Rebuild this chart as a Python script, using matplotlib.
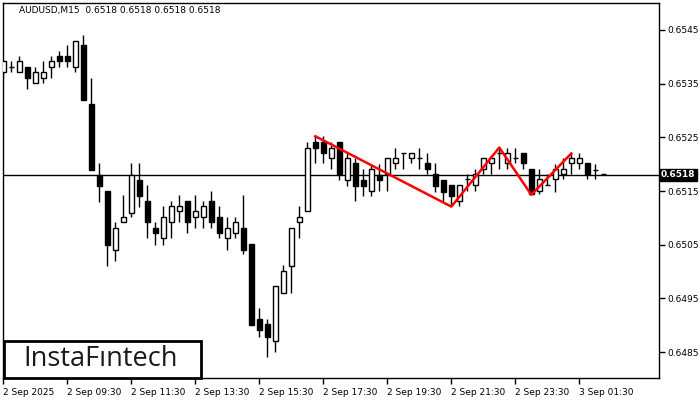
import numpy as np
import matplotlib
matplotlib.use("Agg")
import matplotlib.pyplot as plt
from matplotlib.patches import Rectangle

# AUDUSD M15 candles (open, high, low, close)
opens = [0.65371, 0.65381, 0.65371, 0.65381, 0.65351, 0.65360, 0.65381, 0.65401, 0.65401, 0.65381,
         0.65421, 0.65312, 0.65179, 0.65151, 0.65040, 0.65092, 0.65110, 0.65170, 0.65131, 0.65082,
         0.65062, 0.65092, 0.65112, 0.65131, 0.65101, 0.65101, 0.65131, 0.65101, 0.65062, 0.65071,
         0.65082, 0.65051, 0.64911, 0.64902, 0.64870, 0.64961, 0.65010, 0.65092, 0.65112, 0.65241,
         0.65241, 0.65211, 0.65241, 0.65170, 0.65202, 0.65170, 0.65151, 0.65179, 0.65181, 0.65202,
         0.65220, 0.65211, 0.65211, 0.65202, 0.65181, 0.65170, 0.65161, 0.65131, 0.65172, 0.65161,
         0.65191, 0.65202, 0.65220, 0.65202, 0.65211, 0.65220, 0.65191, 0.65151, 0.65161, 0.65172,
         0.65181, 0.65202, 0.65202, 0.65202, 0.65190, 0.65181]
highs = [0.65392, 0.65392, 0.65401, 0.65381, 0.65381, 0.65392, 0.65401, 0.65410, 0.65421, 0.65429,
         0.65440, 0.65360, 0.65202, 0.65151, 0.65092, 0.65142, 0.65202, 0.65202, 0.65161, 0.65092,
         0.65122, 0.65131, 0.65142, 0.65131, 0.65142, 0.65131, 0.65151, 0.65122, 0.65101, 0.65101,
         0.65142, 0.65051, 0.64932, 0.64911, 0.64973, 0.65012, 0.65082, 0.65122, 0.65241, 0.65252,
         0.65252, 0.65241, 0.65241, 0.65220, 0.65211, 0.65191, 0.65200, 0.65200, 0.65211, 0.65231,
         0.65220, 0.65220, 0.65231, 0.65220, 0.65202, 0.65170, 0.65161, 0.65161, 0.65181, 0.65191,
         0.65211, 0.65218, 0.65231, 0.65231, 0.65231, 0.65220, 0.65191, 0.65191, 0.65181, 0.65200,
         0.65211, 0.65220, 0.65220, 0.65202, 0.65200, 0.65181]
lows = [0.65360, 0.65371, 0.65371, 0.65340, 0.65351, 0.65351, 0.65360, 0.65381, 0.65381, 0.65371,
        0.65319, 0.65189, 0.65129, 0.65010, 0.65019, 0.65092, 0.65101, 0.65120, 0.65062, 0.65049,
        0.65049, 0.65062, 0.65092, 0.65071, 0.65082, 0.65081, 0.65081, 0.65062, 0.65041, 0.65062,
        0.65032, 0.64900, 0.64879, 0.64842, 0.64851, 0.64961, 0.64961, 0.65062, 0.65112, 0.65202,
        0.65202, 0.65191, 0.65170, 0.65159, 0.65131, 0.65140, 0.65140, 0.65151, 0.65151, 0.65191,
        0.65191, 0.65202, 0.65191, 0.65181, 0.65149, 0.65131, 0.65122, 0.65122, 0.65151, 0.65151,
        0.65181, 0.65181, 0.65191, 0.65191, 0.65202, 0.65191, 0.65144, 0.65144, 0.65161, 0.65149,
        0.65172, 0.65181, 0.65191, 0.65172, 0.65172, 0.65181]
closes = [0.65392, 0.65381, 0.65392, 0.65360, 0.65371, 0.65371, 0.65392, 0.65392, 0.65392, 0.65429,
          0.65319, 0.65189, 0.65159, 0.65049, 0.65082, 0.65101, 0.65179, 0.65140, 0.65092, 0.65071,
          0.65101, 0.65122, 0.65122, 0.65092, 0.65112, 0.65122, 0.65092, 0.65071, 0.65082, 0.65092,
          0.65041, 0.64900, 0.64892, 0.64879, 0.64973, 0.65002, 0.65082, 0.65101, 0.65231, 0.65231,
          0.65220, 0.65231, 0.65181, 0.65211, 0.65159, 0.65159, 0.65191, 0.65170, 0.65211, 0.65211,
          0.65220, 0.65220, 0.65211, 0.65191, 0.65159, 0.65149, 0.65140, 0.65161, 0.65172, 0.65181,
          0.65211, 0.65211, 0.65220, 0.65220, 0.65211, 0.65202, 0.65144, 0.65172, 0.65161, 0.65191,
          0.65191, 0.65211, 0.65211, 0.65181, 0.65190, 0.65181]

# pattern line (bar index, price)
pattern_idx = [39, 56, 62, 66, 71]
pattern_price = [0.65252, 0.65121, 0.65231, 0.65143, 0.65220]

last_price = 0.6518
price_ticks = [0.6485, 0.6495, 0.6505, 0.6515, 0.6525, 0.6535, 0.6545]
time_tick_idx = [0, 8, 16, 24, 32, 40, 48, 56, 64, 72]
time_labels = ["2 Sep 2025", "2 Sep 09:30", "2 Sep 11:30", "2 Sep 13:30", "2 Sep 15:30",
               "2 Sep 17:30", "2 Sep 19:30", "2 Sep 21:30", "2 Sep 23:30", "3 Sep 01:30"]

ymin, ymax = 0.64802, 0.65500

fig = plt.figure(figsize=(7, 4), dpi=100)
ax = fig.add_axes([3 / 700, 22 / 400, 656 / 700, 375 / 400])

x = np.arange(len(opens))
w = 0.62
for i in x:
    o, h, l, c = opens[i], highs[i], lows[i], closes[i]
    lo, hi = min(o, c), max(o, c)
    if h > hi:
        ax.vlines(i, hi, h, color="black", lw=1, zorder=3)
    if l < lo:
        ax.vlines(i, l, lo, color="black", lw=1, zorder=3)
    if hi - lo < 0.00002:
        ax.hlines(o, i - w / 2, i + w / 2, color="black", lw=1, zorder=3)
    else:
        face = "white" if c > o else "black"
        ax.add_patch(Rectangle((i - w / 2, lo), w, hi - lo, facecolor=face,
                               edgecolor="black", lw=1, zorder=4))

ax.axhline(last_price, color="black", lw=1, zorder=2)
ax.plot(pattern_idx, pattern_price, color="#ff0000", lw=1.8, zorder=5)

ax.set_xlim(-0.04, 81.96)
ax.set_ylim(ymin, ymax)

ax.yaxis.tick_right()
ax.set_yticks(price_ticks)
ax.set_yticklabels(["%.4f" % p for p in price_ticks])
ax.set_xticks(time_tick_idx)
ax.set_xticklabels(time_labels, ha="left")
ax.tick_params(axis="both", length=4, width=1, labelsize=6.5, pad=2, colors="black")
ax.tick_params(axis="x", pad=3)
for s in ax.spines.values():
    s.set_linewidth(1)

# bid price label
ax.text(1.003, (last_price - ymin) / (ymax - ymin), "0.6518", transform=ax.transAxes,
        ha="left", va="center", fontsize=6.5, color="white", fontweight="bold",
        bbox=dict(boxstyle="square,pad=0.15", facecolor="black", edgecolor="black"))

fig.text(19 / 700, 1 - 11 / 400, "AUDUSD,M15  0.6518 0.6518 0.6518 0.6518", fontsize=6.5,
         ha="left", va="center")

# logo
fig.patches.append(Rectangle((4 / 700, 22 / 400), 197 / 700, 37 / 400, transform=fig.transFigure,
                             facecolor="white", edgecolor="black", lw=2, zorder=10))
fig.text(101 / 700, 41 / 400, "InstaFıntech", ha="center", va="center", fontsize=19.5,
         family="Open Sans", fontweight="medium", color="#1a1a1a", zorder=11)

fig.savefig("out.png", dpi=100)
